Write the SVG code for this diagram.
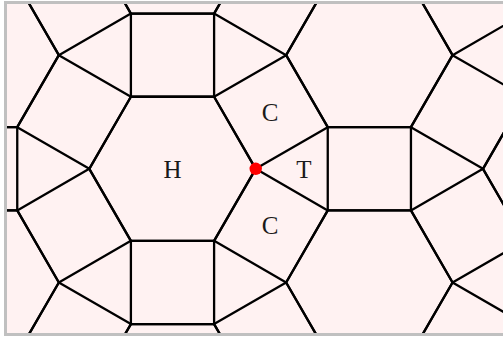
<svg xmlns="http://www.w3.org/2000/svg" xmlns:xlink="http://www.w3.org/1999/xlink" width="503" height="340" viewBox="0 0 503 340">
  <style>
    .edge { fill: none; stroke: #000; stroke-width: 2.3; stroke-linejoin: round; }
    .lbl { font-family: "Liberation Serif", "DejaVu Serif", serif; font-size: 25px; fill: #1a1a1a; text-anchor: middle; dominant-baseline: central; }
  </style>
  <defs>
    <clipPath id="inner">
      <rect x="7" y="4" width="496" height="329"/>
    </clipPath>
    <g id="unit" class="edge">
      <polygon points="83.2,0 41.6,-72.05 -41.6,-72.05 -83.2,0 -41.6,72.05 41.6,72.05"/>
      <polygon points="-41.6,-72.05 41.6,-72.05 41.6,-155.25 -41.6,-155.25"/>
      <polygon points="83.2,0 41.6,-72.05 113.65,-113.65 155.25,-41.6"/>
      <polygon points="83.2,0 41.6,72.05 113.65,113.65 155.25,41.6"/>
    </g>
  </defs>
  <rect x="0" y="0" width="503" height="340" fill="#ffffff"/>
  <rect x="5.5" y="2.5" width="500" height="332" fill="#fff2f2"/>
  <g id="tiling" clip-path="url(#inner)">
    <use xlink:href="#unit" transform="translate(-24.35,55.15)"/>
    <use xlink:href="#unit" transform="translate(-24.35,282.45)"/>
    <use xlink:href="#unit" transform="translate(172.5,-58.5)"/>
    <use xlink:href="#unit" transform="translate(172.5,168.8)"/>
    <use xlink:href="#unit" transform="translate(172.5,396.1)"/>
    <use xlink:href="#unit" transform="translate(369.35,55.15)"/>
    <use xlink:href="#unit" transform="translate(369.35,282.45)"/>
    <use xlink:href="#unit" transform="translate(566.2,-58.5)"/>
    <use xlink:href="#unit" transform="translate(566.2,168.8)"/>
    <use xlink:href="#unit" transform="translate(566.2,396.1)"/>
  </g>
  <g id="hexagon-H"><text class="lbl" x="172.5" y="169">H</text></g>
  <g id="square-C-upper"><text class="lbl" x="270" y="112.5">C</text></g>
  <g id="square-C-lower"><text class="lbl" x="270" y="225">C</text></g>
  <g id="triangle-T"><text class="lbl" x="304" y="169">T</text></g>
  <circle id="vertex" cx="255.7" cy="168.8" r="6.2" fill="#ff0000"/>
  <rect x="5.5" y="2.5" width="500" height="332" fill="none" stroke="#c0c0c0" stroke-width="3"/>
</svg>
